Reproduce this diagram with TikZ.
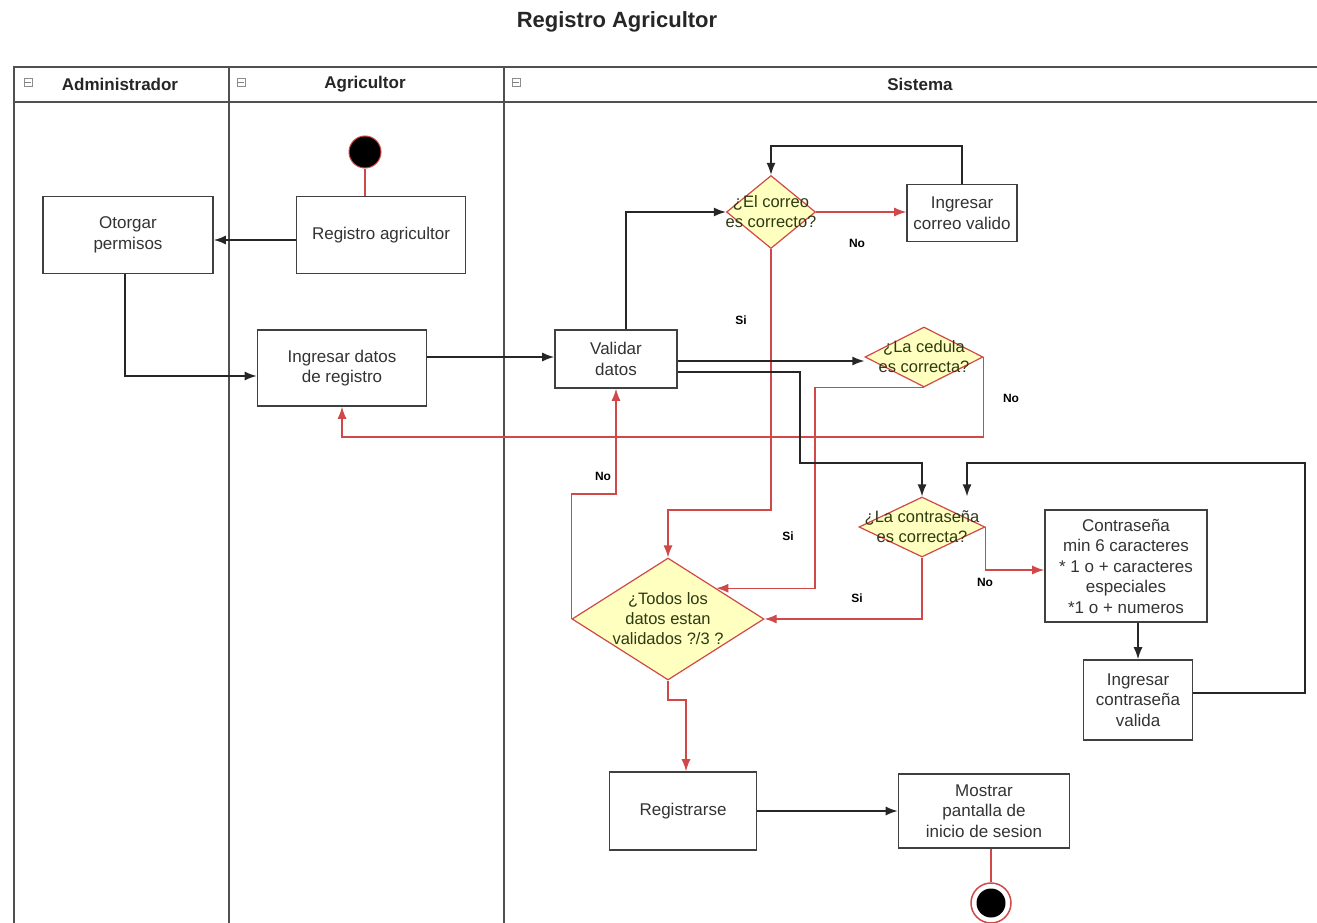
\documentclass[tikz,border=0pt]{standalone}
\usepackage{fontspec}
\setmainfont{Liberation Sans}
\usetikzlibrary{shapes.geometric,arrows.meta}
\definecolor{flowred}{HTML}{D04848}
\definecolor{decfill}{HTML}{FFFFC0}
\definecolor{dectext}{HTML}{2E3A12}
\definecolor{boxline}{HTML}{404040}
\definecolor{boxtext}{HTML}{333333}
\definecolor{laneline}{HTML}{505050}
\begin{document}
\begin{tikzpicture}[x=1pt,y=-1pt,
  act/.style={draw=boxline, line width=1.6pt, fill=white, align=center, inner sep=2pt,
    text=boxtext, font=\fontsize{17}{20.5}\selectfont},
  dec/.style={diamond, draw=flowred, line width=1.2pt, fill=decfill, inner sep=0pt},
  dectxt/.style={align=center, text=dectext, font=\fontsize{16.5}{20}\selectfont},
  lbl/.style={font=\bfseries\fontsize{12}{14}\selectfont, text=black},
  lanehead/.style={font=\bfseries\fontsize{17}{20}\selectfont, text=black!85},
  arr/.style={draw=black!85, line width=1.5pt, -{Latex[length=12pt,width=9pt]}},
  rarr/.style={draw=flowred, line width=1.2pt, -{Latex[length=12pt,width=9pt]}},
  rline/.style={draw=flowred, line width=1.2pt},
  startnode/.style={circle, fill=black, draw=flowred, line width=1pt, minimum size=32pt, inner sep=0pt},
  endring/.style={circle, fill=white, draw=flowred, line width=1.5pt, minimum size=40pt, inner sep=0pt},
  endcore/.style={circle, fill=black, minimum size=29pt, inner sep=0pt},
  collapse/.style={draw=black!45, line width=0.8pt, fill=white, minimum size=8pt, inner sep=0pt}
]
\useasboundingbox (0,0) rectangle (1317,923);
\fill[white] (0,0) rectangle (1317,923);

% title
\node[font=\bfseries\fontsize{22}{26}\selectfont, text=black!85] (title) at (617,22) {Registro Agricultor};

% swimlane frame
\draw[laneline, line width=2pt] (1317,67) -- (14,67) -- (14,923);
\draw[laneline, line width=2pt] (14,102) -- (1317,102);
\draw[laneline, line width=2pt] (229,67) -- (229,923);
\draw[laneline, line width=2pt] (504,67) -- (504,923);

\node[lanehead] (hadm) at (120,84) {Administrador};
\node[lanehead] (hagr) at (365,84) {Agricultor};
\node[lanehead] (hsis) at (920,84) {Sistema};
\foreach \cx/\nm in {28/cadm, 241/cagr, 516/csis} {
  \node[collapse] (\nm) at (\cx,82) {};
  \draw[black!50, line width=0.8pt] ([xshift=1.8pt]\nm.west) -- ([xshift=-1.8pt]\nm.east);
}

% activities
\node[startnode] (start) at (365,152) {};
\node[act, minimum width=170pt, minimum height=77pt] (otorgar) at (128,235) {Otorgar\\permisos};
\node[act, minimum width=169pt, minimum height=77pt] (regagr) at (381,235) {Registro agricultor};
\node[act, minimum width=169pt, minimum height=76pt] (ingresar) at (342,368) {Ingresar datos\\de registro};
\node[act, minimum width=122pt, minimum height=58pt] (validar) at (616,359) {Validar\\datos};
\node[act, minimum width=110pt, minimum height=57pt] (cvalido) at (962,213) {Ingresar\\correo valido};
\node[act, minimum width=162pt, minimum height=112pt] (rules) at (1126,566)
  {Contraseña\\min 6 caracteres\\* 1 o + caracteres\\especiales\\*1 o + numeros};
\node[act, minimum width=109pt, minimum height=80pt] (cpvalida) at (1138,700) {Ingresar\\contraseña\\valida};
\node[act, minimum width=147pt, minimum height=78pt] (reg) at (683,811) {Registrarse};
\node[act, minimum width=171pt, minimum height=74pt] (mostrar) at (984,811) {Mostrar\\pantalla de\\inicio de sesion};
\node[endring] (end) at (991,903) {};
\node[endcore] (endcore) at (end.center) {};

% decisions
\node[dec, minimum width=89pt, minimum height=73pt] (correo) at (771,212) {};
\node[dectxt] (tcorreo) at (correo.center) {¿El correo\\es correcto?};
\node[dec, minimum width=118pt, minimum height=60pt] (cedula) at (924,357) {};
\node[dectxt] (tcedula) at (cedula.center) {¿La cedula\\es correcta?};
\node[dec, minimum width=126pt, minimum height=60pt] (contra) at (922,527) {};
\node[dectxt] (tcontra) at (contra.center) {¿La contraseña\\es correcta?};
\node[dec, minimum width=192pt, minimum height=122pt] (todos) at (668,619) {};
\node[dectxt] (ttodos) at (todos.center) {¿Todos los\\datos estan\\validados ?/3 ?};

% connectors
\draw[rline] (start) -- (start |- regagr.north);
\draw[arr] (regagr.west |- 0,240) -- (otorgar.east |- 0,240);
\draw[arr] ([xshift=-3pt]otorgar.south) |- (ingresar.west |- 0,376);
\draw[arr] (ingresar.east |- 0,357) -- (validar.west |- 0,357);
\draw[arr] (validar.north -| 626,0) |- (correo.west);
\draw[rarr] (correo.east) -- (cvalido.west |- correo.east);
\draw[arr] (cvalido.north) -- (cvalido.north |- 0,146) -| (correo.north);
\draw[rarr] (correo.south) -- (correo.south |- 0,510) -| (todos.north);
\draw[arr] (validar.east |- 0,361) -- (cedula.west |- 0,361);
\draw[rarr] (cedula.east) -- (cedula.east |- 0,437) -| (ingresar.south);
\draw[rarr] (cedula.south) -- (cedula.south -| 815,0) |- (todos.north east);
\draw[arr] (validar.east |- 0,372) -| (800,463) -| (contra.north);
\draw[rarr] (contra.east) -- (contra.east |- 0,570) -- (rules.west |- 0,570);
\draw[rarr] (contra.south) |- (todos.east);
\draw[arr] (cpvalida.north |- rules.south) -- (cpvalida.north);
\draw[arr] (cpvalida.east |- 0,693) -| (1305,463) -| (contra.north -| 967,0);
\draw[rarr] (todos.west) |- (616,494) -- (validar.south);
\draw[rarr] (todos.south) -- (todos.south |- 0,700) -| ([xshift=3pt]reg.north);
\draw[arr] (reg.east) -- (mostrar.west);
\draw[rline] (mostrar.south -| end.north) -- (end.north);

% guard labels
\node[lbl] (lno1) at (857,243) {No};
\node[lbl] (lsi1) at (741,320) {Si};
\node[lbl] (lno2) at (1011,398) {No};
\node[lbl] (lno3) at (603,476) {No};
\node[lbl] (lsi2) at (788,536) {Si};
\node[lbl] (lno4) at (985,582) {No};
\node[lbl] (lsi3) at (857,598) {Si};
\end{tikzpicture}
\end{document}
